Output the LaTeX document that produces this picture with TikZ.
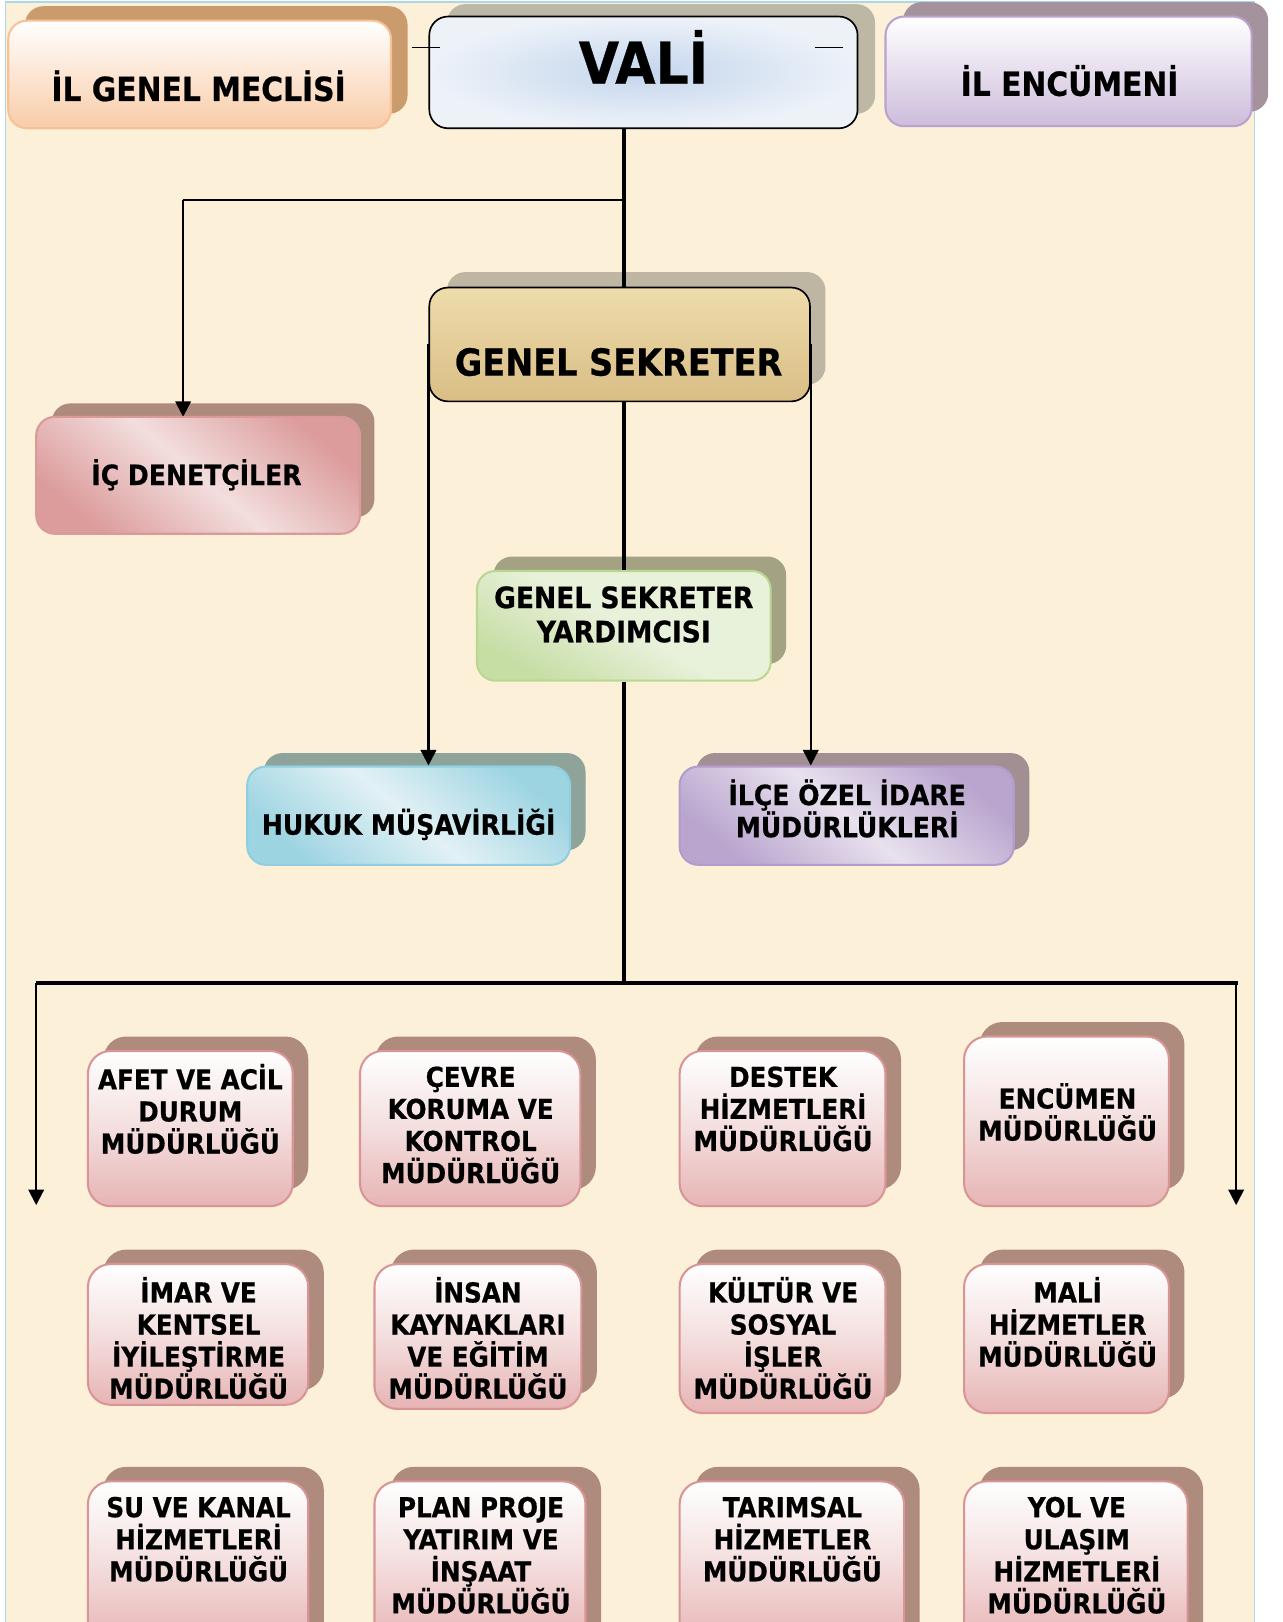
\documentclass[tikz,border=0pt]{standalone}
\usepackage{fontspec}
\setmainfont{DejaVu Sans Condensed}[BoldFeatures={FakeBold=0.6}]
\usetikzlibrary{arrows.meta}
\definecolor{cream}{HTML}{FCF0D8}
\definecolor{bordblue}{HTML}{A8D8EA}
\definecolor{igmShadow}{HTML}{C99B6D}
\definecolor{igmBorder}{HTML}{F8C196}
\definecolor{igmBottom}{HTML}{F9CCA8}
\definecolor{valiShadow}{HTML}{BDB8A6}
\definecolor{valiFill}{HTML}{EDF2F9}
\definecolor{valiInner}{HTML}{C4D6EC}
\definecolor{ienShadow}{HTML}{A4929C}
\definecolor{ienBorder}{HTML}{B9A2D0}
\definecolor{ienBottom}{HTML}{CDBCDB}
\definecolor{gsShadow}{HTML}{BEB6A2}
\definecolor{gsTop}{HTML}{EEDCAC}
\definecolor{gsBottom}{HTML}{D9BD85}
\definecolor{icdShadow}{HTML}{AF8B7E}
\definecolor{icdBorder}{HTML}{DA9A9A}
\definecolor{icdDark}{HTML}{DC9C9C}
\definecolor{icdLight}{HTML}{F3DEDE}
\definecolor{gsyShadow}{HTML}{A3A384}
\definecolor{gsyBorder}{HTML}{B9D88F}
\definecolor{gsyLight}{HTML}{E8F1DA}
\definecolor{gsyDark}{HTML}{C6DDA4}
\definecolor{hukShadow}{HTML}{8EA49B}
\definecolor{hukBorder}{HTML}{8FCFE0}
\definecolor{hukDark}{HTML}{9DD4E2}
\definecolor{hukLight}{HTML}{E2F1F5}
\definecolor{ilceShadow}{HTML}{A18F93}
\definecolor{ilceBorder}{HTML}{B29CCB}
\definecolor{ilceDark}{HTML}{B9A5CE}
\definecolor{ilceLight}{HTML}{E8E1EE}
\definecolor{pinkShadow}{HTML}{AF8B7E}
\definecolor{pinkBorder}{HTML}{D99595}
\definecolor{pinkBottom}{HTML}{E7B4B4}
\definecolor{pinkMid}{HTML}{F4DEDE}
\begin{document}
\begin{tikzpicture}[x=1pt,y=-1pt,
  thickline/.style={line width=4pt},
  thinline/.style={line width=2pt},
  arr/.style={thinline,-{Triangle[length=15pt,width=15pt]}},
  shad/.style={rounded corners=18pt},
  bshad/.style={fill=pinkShadow,rounded corners=22pt},
  front/.style={rectangle,rounded corners=18pt,line width=2pt,inner sep=0pt},
  pinkbox/.style={front,rounded corners=22pt,draw=pinkBorder,top color=white,bottom color=pinkBottom,middle color=pinkMid},
  btext/.style={align=center,inner sep=0pt,font=\bfseries\fontsize{26.5}{31}\selectfont},
  mtext/.style={align=center,inner sep=0pt,font=\bfseries\fontsize{27}{31}\selectfont},
]
\useasboundingbox (0,0) rectangle (1240,1568);
\clip (0,0) rectangle (1240,1568);
\fill[white] (0,0) rectangle (1240,1568);
\fill[cream] (5,2) rectangle (1213,1568);
\draw[bordblue,line width=1.2pt] (5,1568) -- (5,2) -- (1213,2) -- (1213,1568);

% ---------- shadows ----------
\fill[igmShadow,shad] (24,6) rectangle (394,110);
\fill[valiShadow,shad] (432,4) rectangle (846,110);
\fill[ienShadow,shad] (873,2) rectangle (1226,108);
\fill[gsShadow,shad] (432,263) rectangle (798,372);
\fill[icdShadow,shad] (50,390) rectangle (362,500);
\fill[gsyShadow,shad] (477,538) rectangle (760,642);
\fill[hukShadow,shad] (255,728) rectangle (566,822);
\fill[ilceShadow,shad] (673,728) rectangle (995,822);

\fill[bshad] (100,1002) rectangle (298,1150);
\fill[bshad] (363,1002) rectangle (576,1150);
\fill[bshad] (672,1002) rectangle (871,1150);
\fill[bshad] (947,988) rectangle (1145,1150);
\fill[bshad] (100,1208) rectangle (313,1344);
\fill[bshad] (378,1208) rectangle (577,1348);
\fill[bshad] (672,1208) rectangle (871,1352);
\fill[bshad] (947,1208) rectangle (1145,1352);
\fill[bshad] (100,1418) rectangle (313,1590);
\fill[bshad] (378,1418) rectangle (581,1590);
\fill[bshad] (672,1418) rectangle (889,1590);
\fill[bshad] (947,1418) rectangle (1163,1590);

% ---------- nodes ----------
\node[front,draw=igmBorder,top color=white,bottom color=igmBottom,minimum width=370pt,minimum height=104pt] (igm) at (193,72) {};
\node[front,draw=black,line width=1.6pt,inner color=valiInner,outer color=valiFill,minimum width=414pt,minimum height=108pt] (vali) at (622,70) {};
\node[front,draw=ienBorder,top color=white,bottom color=ienBottom,minimum width=354pt,minimum height=106pt] (ien) at (1033,69) {};

\coordinate (trunk) at (603,0);
\coordinate (br) at (603,193);
\coordinate (icdin) at (177,403);
\coordinate (busL) at (35,950);
\coordinate (busR) at (1197,950);
\coordinate (bus) at (603,950);
\coordinate (arrL) at (35,1165);
\coordinate (arrR) at (1195,1165);

\node[front,draw=black,line width=1.6pt,top color=gsTop,bottom color=gsBottom,minimum width=368pt,minimum height=110pt] (gs) at (599,333) {};
\node[front,draw=gsyBorder,top color=gsyLight,bottom color=gsyDark,middle color=gsyLight,shading angle=-30,minimum width=284pt,minimum height=106pt] (gsy) at (603,605) {};

% connectors (drawn over shadows, under boxes)
\draw[thickline] (vali.south -| trunk) -- (gs.north -| trunk);
\draw[thickline] (gs.south -| trunk) -- (gsy.north);
\draw[thinline] (br) -- (br -| icdin);
\draw[arr] (br -| icdin) -- (icdin);
\draw[thickline] (gsy.south) -- (bus);
\draw[thickline] (busL) -- (busR);
\draw[arr] (busL) -- (arrL);
\draw[arr] ([xshift=-2pt]busR) -- (arrR);

\node[front,draw=icdBorder,top color=icdDark,bottom color=icdDark,middle color=icdLight,shading angle=-40,minimum width=313pt,minimum height=113pt] (icd) at (191.5,459.5) {};
\node[front,draw=hukBorder,top color=hukDark,bottom color=hukDark,middle color=hukLight,shading angle=-40,minimum width=312pt,minimum height=95pt] (huk) at (395,788.5) {};
\node[front,draw=ilceBorder,top color=ilceDark,bottom color=ilceDark,middle color=ilceLight,shading angle=-40,minimum width=323pt,minimum height=95pt] (ilce) at (818.5,788.5) {};

\draw[arr] (gs.west) -- (gs.west |- huk.north);
\draw[arr] (gs.east) -- (gs.east |- ilce.north);
\coordinate (tickLa) at (398,46);
\coordinate (tickLb) at (425,46);
\coordinate (tickRa) at (788,46);
\coordinate (tickRb) at (815,46);
\draw[line width=1.2pt] (tickLa) -- (tickLb);
\draw[line width=1.2pt] (tickRa) -- (tickRb);

% bottom boxes
\node[pinkbox,minimum width=198pt,minimum height=150pt] (afet) at (184,1091) {};
\node[pinkbox,minimum width=213pt,minimum height=150pt] (cevre) at (454.5,1091) {};
\node[pinkbox,minimum width=199pt,minimum height=150pt] (destek) at (756.5,1091) {};
\node[pinkbox,minimum width=198pt,minimum height=164pt] (encm) at (1031,1084) {};
\node[pinkbox,minimum width=213pt,minimum height=136pt] (imar) at (191.5,1290) {};
\node[pinkbox,minimum width=200pt,minimum height=140pt] (insan) at (462,1292) {};
\node[pinkbox,minimum width=199pt,minimum height=144pt] (kultur) at (756.5,1294) {};
\node[pinkbox,minimum width=198pt,minimum height=144pt] (mali) at (1031,1294) {};
\node[pinkbox,minimum width=213pt,minimum height=158pt] (su) at (191.5,1511) {};
\node[pinkbox,minimum width=204pt,minimum height=158pt] (plan) at (464,1511) {};
\node[pinkbox,minimum width=217pt,minimum height=158pt] (tarim) at (765.5,1511) {};
\node[pinkbox,minimum width=216pt,minimum height=158pt] (yol) at (1040,1511) {};

% ---------- texts ----------
\node[inner sep=0pt,font=\bfseries\fontsize{32}{36}\selectfont] (igm-t) at (192,83) {İL GENEL MECLİSİ};
\node[inner sep=0pt,font=\bfseries\fontsize{56}{60}\selectfont] (vali-t) at (622,55) {VALİ};
\node[inner sep=0pt,font=\bfseries\fontsize{32}{36}\selectfont] (ien-t) at (1034,78) {İL ENCÜMENİ};
\node[inner sep=0pt,font=\bfseries\fontsize{36}{40}\selectfont] (gs-t) at (598,350) {GENEL SEKRETER};
\node[inner sep=0pt,font=\bfseries\fontsize{27}{31}\selectfont] (icd-t) at (190,459) {İÇ DENETÇİLER};
\node[mtext,font=\bfseries\fontsize{28.5}{33}\selectfont] (gsy-t) at (603,594) {GENEL SEKRETER\\YARDIMCISI};
\node[mtext] (huk-t) at (395,797) {HUKUK MÜŞAVİRLİĞİ};
\node[mtext] (ilce-t) at (819,781.5) {İLÇE ÖZEL İDARE\\MÜDÜRLÜKLERİ};

\node[btext] (afet-t) at (184,1072) {AFET VE ACİL\\DURUM\\MÜDÜRLÜĞÜ};
\node[btext] (cevre-t) at (455,1087.5) {ÇEVRE\\KORUMA VE\\KONTROL\\MÜDÜRLÜĞÜ};
\node[btext] (destek-t) at (757,1072) {DESTEK\\HİZMETLERİ\\MÜDÜRLÜĞÜ};
\node[btext] (encm-t) at (1032,1075) {ENCÜMEN\\MÜDÜRLÜĞÜ};
\node[btext] (imar-t) at (192,1293.5) {İMAR VE\\KENTSEL\\İYİLEŞTİRME\\MÜDÜRLÜĞÜ};
\node[btext] (insan-t) at (462,1293.5) {İNSAN\\KAYNAKLARI\\VE EĞİTİM\\MÜDÜRLÜĞÜ};
\node[btext] (kultur-t) at (757,1293.5) {KÜLTÜR VE\\SOSYAL\\İŞLER\\MÜDÜRLÜĞÜ};
\node[btext] (mali-t) at (1032,1278) {MALİ\\HİZMETLER\\MÜDÜRLÜĞÜ};
\node[btext] (su-t) at (192,1488) {SU VE KANAL\\HİZMETLERİ\\MÜDÜRLÜĞÜ};
\node[btext] (plan-t) at (465,1503.5) {PLAN PROJE\\YATIRIM VE\\İNŞAAT\\MÜDÜRLÜĞÜ};
\node[btext] (tarim-t) at (766,1488) {TARIMSAL\\HİZMETLER\\MÜDÜRLÜĞÜ};
\node[btext] (yol-t) at (1041,1503.5) {YOL VE\\ULAŞIM\\HİZMETLERİ\\MÜDÜRLÜĞÜ};
\end{tikzpicture}
\end{document}
